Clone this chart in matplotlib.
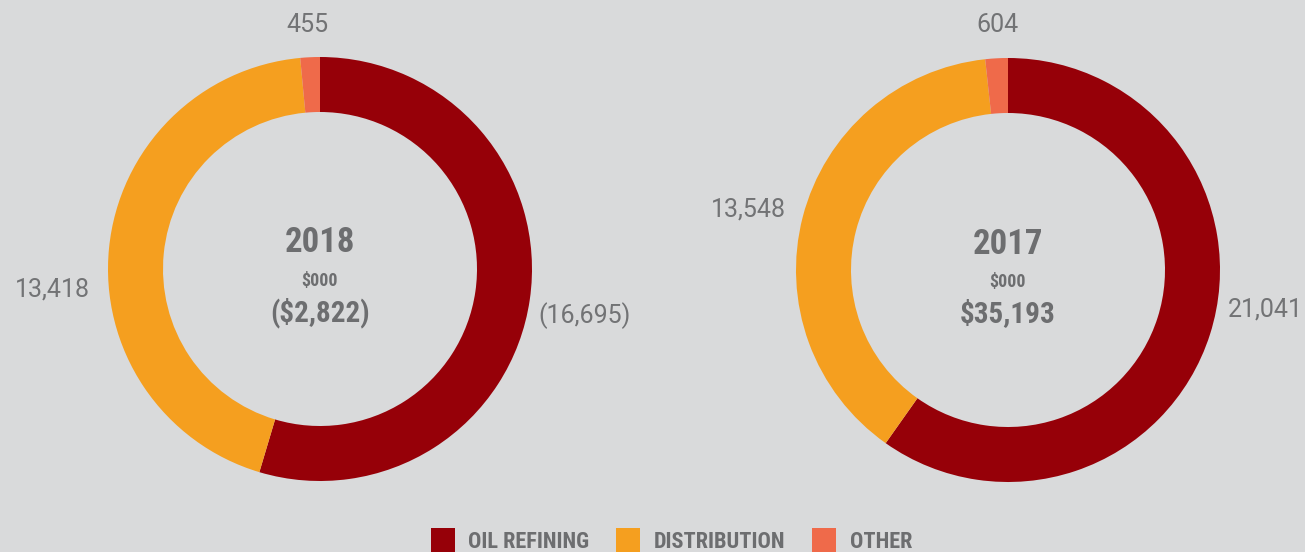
import matplotlib
matplotlib.use("Agg")
import matplotlib.pyplot as plt
from matplotlib.lines import Line2D

# segment data ($000), absolute values drive slice sizes
segments = ["OIL REFINING", "DISTRIBUTION", "OTHER"]
colors = ["#960008", "#f59f1f", "#ef6a4a"]
vals_2018 = [16695, 13418, 455]
labels_2018 = ["(16,695)", "13,418", "455"]
vals_2017 = [21041, 13548, 604]
labels_2017 = ["21,041", "13,548", "604"]
years = ["2018", "2017"]
totals = ["($2,822)", "$35,193"]

BG = "#d9dadb"
TXT = "#6d6e70"
COND = ["Roboto Condensed", "Barlow Condensed", "DejaVu Sans"]
LIGHT = ["Roboto", "DejaVu Sans"]

W, H = 1305, 552
fig = plt.figure(figsize=(W / 100, H / 100), dpi=100, facecolor=BG)
ax = fig.add_axes([0, 0, 1, 1])
ax.set_facecolor(BG)

donuts = [
    (vals_2018, labels_2018, (320, H - 269), [(585, H - 316), (52, H - 290), (307, H - 25)]),
    (vals_2017, labels_2017, (1008, H - 270), [(1265, H - 310), (748, H - 210), (997, H - 25)]),
]

for k, (vals, labs, c, lpos) in enumerate(donuts):
    ax.pie(vals, colors=colors, startangle=90, counterclock=False,
           center=c, radius=212, frame=True,
           wedgeprops=dict(width=55, linewidth=0))
    for lab, (x, y) in zip(labs, lpos):
        ax.text(x, y, lab, ha="center", va="center", color="#727375",
                fontsize=18, family=LIGHT)
    cx, cy = c
    ax.text(cx, cy + 26, years[k], ha="center", va="center", color=TXT,
            fontsize=25, fontweight="bold", family=COND)
    ax.text(cx, cy - 12, "$000", ha="center", va="center", color=TXT,
            fontsize=13, fontweight="bold", family=COND)
    ax.text(cx, cy - 44, totals[k], ha="center", va="center", color=TXT,
            fontsize=21, fontweight="bold", family=COND)

ax.set_xlim(0, W)
ax.set_ylim(0, H)
ax.set_aspect("equal")
ax.axis("off")

handles = [Line2D([], [], marker="s", linestyle="none", markersize=17,
                  markerfacecolor=col, markeredgewidth=0) for col in colors]
leg = fig.legend(handles, segments, loc="center", bbox_to_anchor=(0.5143, 10 / H),
                 ncol=3, frameon=False, handlelength=1.1, handletextpad=0.6,
                 columnspacing=1.2, prop=dict(family=COND, weight="bold", size=16))
for t in leg.get_texts():
    t.set_color(TXT)

fig.savefig("out.png", dpi=100, facecolor=BG)
